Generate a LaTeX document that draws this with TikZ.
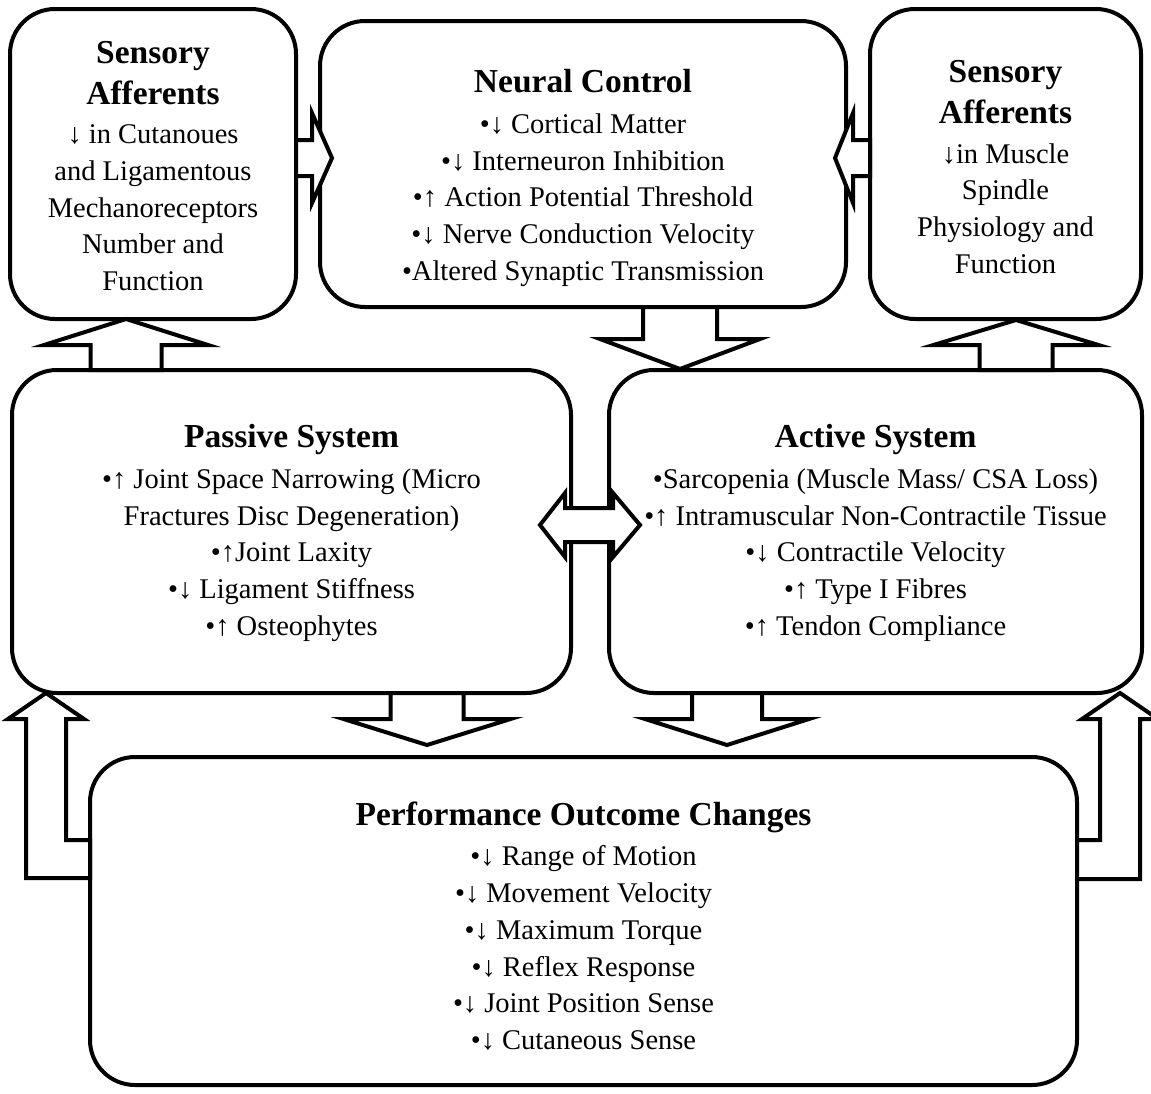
\documentclass[tikz,border=0pt]{standalone}
\usepackage{fontspec}
\setmainfont{Liberation Serif}
\usepackage{tikz}
\usetikzlibrary{calc,positioning}
\newcommand{\boxhead}[1]{{\fontsize{33.5pt}{40pt}\selectfont\bfseries #1}}
\tikzset{
	sysbox/.style={draw, line width=4pt, rounded corners=45pt, inner sep=0pt, outer sep=0pt},
	boxtext/.style={align=center, inner sep=0pt, font=\fontsize{28.5pt}{36.7pt}\selectfont},
	arrow outline/.style={draw, fill=white, line width=4pt},
	pics/fatarrow/.style n args={4}{code={
		\path[arrow outline] (0,-#3) -- ({#1-#2},-#3) -- ({#1-#2},-#4) -- (#1,0)
			-- ({#1-#2},#4) -- ({#1-#2},#3) -- (0,#3) -- cycle;
	}}
}

\begin{document}
\begin{tikzpicture}[x=1pt, y=-1pt]
   \useasboundingbox (0,0) rectangle (1151,1093);

   \node[sysbox, minimum width=286pt, minimum height=310pt] (lsens) at (153,164) {};
   \node[sysbox, minimum width=526pt, minimum height=286pt] (neural) at (583,164) {};
   \node[sysbox, minimum width=271pt, minimum height=310pt] (rsens) at (1005.5,164) {};
   \node[sysbox, minimum width=559pt, minimum height=323pt] (passive) at (291.5,531.5) {};
   \node[sysbox, minimum width=533pt, minimum height=323pt] (active) at (875.5,531.5) {};
   \node[sysbox, minimum width=987pt, minimum height=328pt] (perf) at (583.5,921) {};

   \node[boxtext, yshift=-2pt] (lsens text) at (lsens.center) {\boxhead{Sensory}\\[4pt] \boxhead{Afferents}\\[3pt]
      ↓ in Cutanoues\\ and Ligamentous\\ Mechanoreceptors\\ Number and\\ Function};
   \node[boxtext, yshift=-14pt] (neural text) at (neural.center) {\boxhead{Neural Control}\\[4pt]
      •↓ Cortical Matter\\ •↓ Interneuron Inhibition\\ •↑ Action Potential Threshold\\
      •↓ Nerve Conduction Velocity\\ •Altered Synaptic Transmission};
   \node[boxtext, yshift=-3pt] (rsens text) at (rsens.center) {\boxhead{Sensory}\\[4pt] \boxhead{Afferents}\\[3pt]
      ↓in Muscle\\ Spindle\\ Physiology and\\ Function};
   \node[boxtext, yshift=-1.5pt] (passive text) at (passive.center) {\boxhead{Passive System}\\[4pt]
      •↑ Joint Space Narrowing (Micro\\ Fractures Disc Degeneration)\\ •↑Joint Laxity\\
      •↓ Ligament Stiffness\\ •↑ Osteophytes};
   \node[boxtext, yshift=-1.5pt] (active text) at (active.center) {\boxhead{Active System}\\[4pt]
      •Sarcopenia (Muscle Mass/ CSA Loss)\\ •↑ Intramuscular Non-Contractile Tissue\\
      •↓ Contractile Velocity\\ •↑ Type I Fibres\\ •↑ Tendon Compliance};
   \node[boxtext, yshift=-5pt] (perf text) at (perf.center) {\boxhead{Performance Outcome Changes}\\[4pt]
      •↓ Range of Motion\\ •↓ Movement Velocity\\ •↓ Maximum Torque\\ •↓ Reflex Response\\
      •↓ Joint Position Sense\\ •↓ Cutaneous Sense};

   \pic at (lsens.east |- 0,158) {fatarrow={36}{20}{18}{45}};
   \pic[rotate=180] at (rsens.west |- 0,158) {fatarrow={35}{18}{18}{45}};
   \pic[rotate=90] at (126,0 |- passive.north) {fatarrow={51}{26}{35.5}{82}};
   \pic[rotate=90] at (1016,0 |- active.north) {fatarrow={50}{25}{36.5}{82.5}};
   \pic[rotate=-90] at (680,0 |- neural.south) {fatarrow={62}{30}{37}{80}};
   \pic[rotate=-90] at (427,0 |- passive.south) {fatarrow={52}{26}{36.5}{83.5}};
   \pic[rotate=-90] at (727,0 |- active.south) {fatarrow={52}{26}{35}{82}};

   \path[arrow outline] (540,525) -- (565,493) -- (565,508) -- (613,508) -- (613,493) -- (640,525)
      -- (613,557) -- (613,542) -- (565,542) -- (565,557) -- cycle;
   \path[arrow outline] (perf.west |- 0,878) -- (26,878) -- (26,719) -- (8,719) -- (46,693)
      -- (84,719) -- (66,719) -- (66,840) -- (perf.west |- 0,840) -- cycle;
   \path[arrow outline] (perf.east |- 0,879) -- (1140,879) -- (1140,719) -- (1158,719) -- (1120,693)
      -- (1082,719) -- (1100,719) -- (1100,840) -- (perf.east |- 0,840) -- cycle;
\end{tikzpicture}
\end{document}
